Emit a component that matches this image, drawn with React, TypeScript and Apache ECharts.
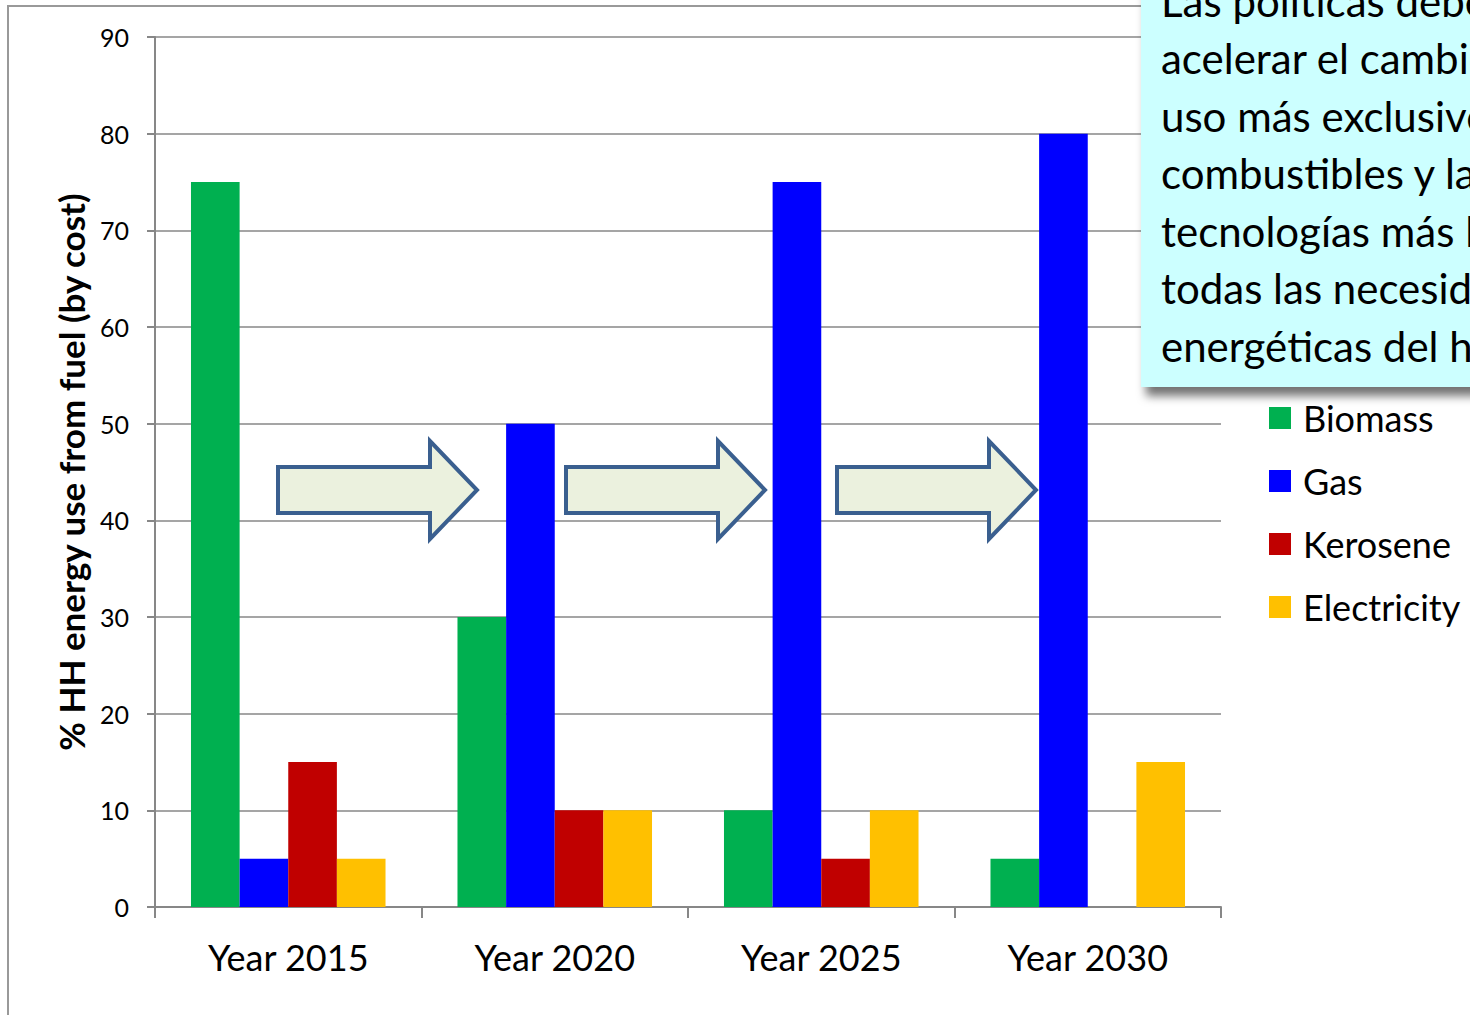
import React, { useEffect, useRef } from "react";
import * as echarts from "echarts";

// Household fuel shares by year
const years = ["Year 2015", "Year 2020", "Year 2025", "Year 2030"];
const fuels = ["Biomass", "Gas", "Kerosene", "Electricity"];
const biomass = [75, 30, 10, 5];
const gas = [5, 50, 75, 80];
const kerosene = [15, 10, 5, 0];
const electricity = [5, 10, 10, 15];
const fuelColors = ["#00B050", "#0000FF", "#C00000", "#FFC000"];

const yTicks = { min: 0, max: 90, interval: 10 };

const calloutLines = [
  "Las políticas deben",
  "acelerar el cambio al",
  "uso más exclusivo de",
  "combustibles y las",
  "tecnologías más limpias",
  "todas las necesidades",
  "energéticas del hogar",
];

// Left x of each block arrow between year groups
const arrowStarts = [278, 566, 837];

const FONT = "Lato, 'Open Sans', 'Noto Sans', sans-serif";
const GRID_GREY = "#878787";

function arrowShape(x0: number) {
  const cy = 490;
  const bodyLen = 152;
  const headLen = 47;
  return {
    type: "polygon",
    z: 50,
    shape: {
      points: [
        [x0, cy - 23],
        [x0 + bodyLen, cy - 23],
        [x0 + bodyLen, cy - 49],
        [x0 + bodyLen + headLen, cy],
        [x0 + bodyLen, cy + 49],
        [x0 + bodyLen, cy + 23],
        [x0, cy + 23],
      ],
    },
    style: { fill: "#EBF1DE", stroke: "#3A5F8F", lineWidth: 4, lineJoin: "miter" },
  };
}

export default function App() {
  const ref = useRef<HTMLDivElement>(null);

  useEffect(() => {
    if (!ref.current) return;
    const chart = echarts.init(ref.current, undefined, { renderer: "svg" });
    const seriesData = [biomass, gas, kerosene, electricity];

    chart.setOption({
      animation: false,
      backgroundColor: "#ffffff",
      grid: { left: 155, right: 249, top: 37, bottom: 108, containLabel: false },
      legend: {
        orient: "vertical",
        left: 1264,
        top: 393,
        data: fuels,
        icon: "rect",
        itemWidth: 22,
        itemHeight: 22,
        itemGap: 23,
        textStyle: {
          fontFamily: FONT,
          fontSize: 36,
          color: "#000",
          lineHeight: 40,
          padding: [0, 0, 0, 7],
        },
      },
      xAxis: {
        type: "category",
        data: years,
        axisLine: { lineStyle: { color: GRID_GREY, width: 2 } },
        axisTick: { show: true, length: 11, alignWithLabel: false, lineStyle: { color: GRID_GREY, width: 2 } },
        axisLabel: { fontFamily: FONT, fontSize: 36, color: "#000", margin: 32 },
      },
      yAxis: {
        type: "value",
        min: yTicks.min,
        max: yTicks.max,
        interval: yTicks.interval,
        name: "% HH energy use from fuel (by cost)",
        nameLocation: "middle",
        nameGap: 67,
        nameTextStyle: { fontFamily: FONT, fontSize: 35, fontWeight: "bold", color: "#000" },
        axisLine: { show: true, lineStyle: { color: GRID_GREY, width: 2 } },
        axisTick: { show: true, length: 8, lineStyle: { color: GRID_GREY, width: 2 } },
        axisLabel: { fontFamily: FONT, fontSize: 25, color: "#000", margin: 26 },
        splitLine: { lineStyle: { color: GRID_GREY, width: 1.5 } },
      },
      series: fuels.map((name, i) => ({
        name,
        type: "bar",
        data: seriesData[i],
        barGap: "0%",
        barCategoryGap: "27%",
        itemStyle: { color: fuelColors[i] },
      })),
      graphic: [
        // outer frame
        {
          type: "rect",
          z: 1,
          silent: true,
          shape: { x: 8, y: 6, width: 1500, height: 1100 },
          style: { fill: "none", stroke: "#999", lineWidth: 2 },
        },
        ...arrowStarts.map(arrowShape),
        // callout box
        {
          type: "rect",
          z: 100,
          shape: { x: 1141, y: -20, width: 360, height: 407 },
          style: {
            fill: "#CCFFFF",
            shadowBlur: 10,
            shadowOffsetX: 5,
            shadowOffsetY: 9,
            shadowColor: "rgba(0,0,0,0.55)",
          },
        },
        {
          type: "text",
          z: 101,
          x: 1161,
          y: -28,
          style: {
            text: calloutLines.join("\n"),
            fontFamily: FONT,
            fontSize: 42,
            lineHeight: 57.5,
            fill: "#000",
            verticalAlign: "top",
            align: "left",
          },
        },
      ],
    });

    return () => chart.dispose();
  }, []);

  return (
    <div
      ref={ref}
      style={{ position: "fixed", left: 0, top: 0, width: 1470, height: 1015 }}
    />
  );
}
